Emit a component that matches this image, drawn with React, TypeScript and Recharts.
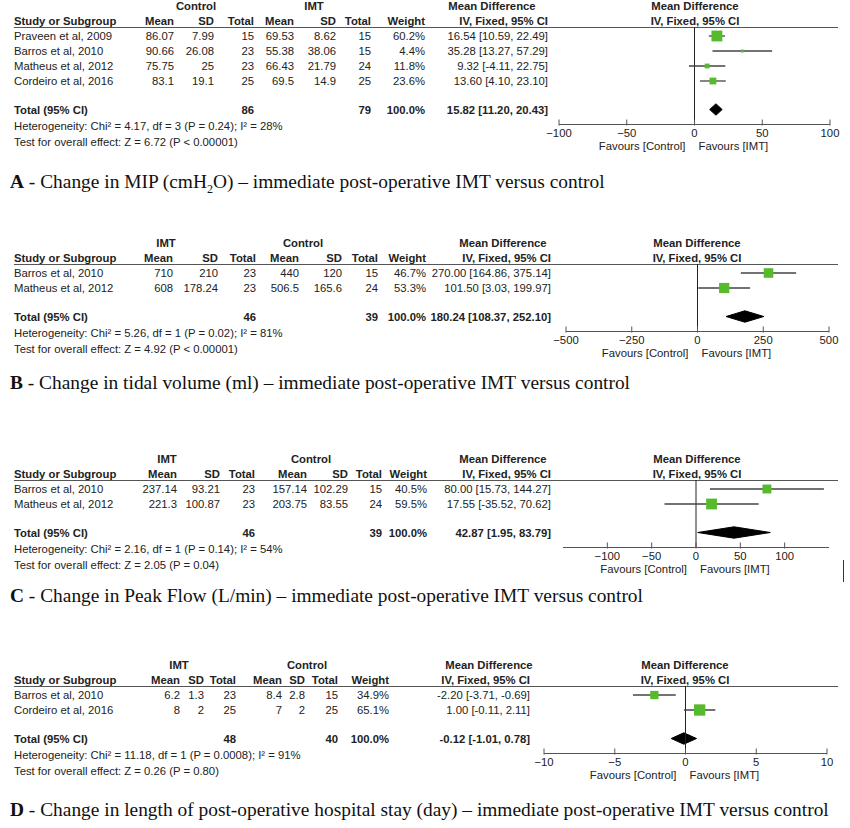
import React from "react";
import {
  ComposedChart,
  Scatter,
  ErrorBar,
  Area,
  XAxis,
  YAxis,
  ReferenceLine,
} from "recharts";

// ---- A: MIP (cmH2O)
const mipGroups = ["Control", "IMT"];
const mipStudies = ["Praveen et al, 2009", "Barros et al, 2010", "Matheus et al, 2012", "Cordeiro et al, 2016"];
const mipMean1 = ["86.07", "90.66", "75.75", "83.1"];
const mipSd1 = ["7.99", "26.08", "25", "19.1"];
const mipN1 = [15, 23, 23, 25];
const mipMean2 = ["69.53", "55.38", "66.43", "69.5"];
const mipSd2 = ["8.62", "38.06", "21.79", "14.9"];
const mipN2 = [15, 15, 24, 25];
const mipWeight = [60.2, 4.4, 11.8, 23.6];
const mipMd = [16.54, 35.28, 9.32, 13.6];
const mipLo = [10.59, 13.27, -4.11, 4.1];
const mipHi = [22.49, 57.29, 22.75, 23.1];
const mipTotalN = [86, 79];
const mipTotal = [15.82, 11.2, 20.43];
const mipHet = "Heterogeneity: Chi² = 4.17, df = 3 (P = 0.24); I² = 28%";
const mipTest = "Test for overall effect: Z = 6.72 (P < 0.00001)";
const mipTicks = [-100, -50, 0, 50, 100];

// ---- B: tidal volume (ml)
const tvGroups = ["IMT", "Control"];
const tvStudies = ["Barros et al, 2010", "Matheus et al, 2012"];
const tvMean1 = ["710", "608"];
const tvSd1 = ["210", "178.24"];
const tvN1 = [23, 23];
const tvMean2 = ["440", "506.5"];
const tvSd2 = ["120", "165.6"];
const tvN2 = [15, 24];
const tvWeight = [46.7, 53.3];
const tvMd = [270.0, 101.5];
const tvLo = [164.86, 3.03];
const tvHi = [375.14, 199.97];
const tvTotalN = [46, 39];
const tvTotal = [180.24, 108.37, 252.1];
const tvHet = "Heterogeneity: Chi² = 5.26, df = 1 (P = 0.02); I² = 81%";
const tvTest = "Test for overall effect: Z = 4.92 (P < 0.00001)";
const tvTicks = [-500, -250, 0, 250, 500];

// ---- C: peak flow (L/min)
const pfGroups = ["IMT", "Control"];
const pfStudies = ["Barros et al, 2010", "Matheus et al, 2012"];
const pfMean1 = ["237.14", "221.3"];
const pfSd1 = ["93.21", "100.87"];
const pfN1 = [23, 23];
const pfMean2 = ["157.14", "203.75"];
const pfSd2 = ["102.29", "83.55"];
const pfN2 = [15, 24];
const pfWeight = [40.5, 59.5];
const pfMd = [80.0, 17.55];
const pfLo = [15.73, -35.52];
const pfHi = [144.27, 70.62];
const pfTotalN = [46, 39];
const pfTotal = [42.87, 1.95, 83.79];
const pfHet = "Heterogeneity: Chi² = 2.16, df = 1 (P = 0.14); I² = 54%";
const pfTest = "Test for overall effect: Z = 2.05 (P = 0.04)";
const pfTicks = [-100, -50, 0, 50, 100];

// ---- D: hospital stay (day)
const hsGroups = ["IMT", "Control"];
const hsStudies = ["Barros et al, 2010", "Cordeiro et al, 2016"];
const hsMean1 = ["6.2", "8"];
const hsSd1 = ["1.3", "2"];
const hsN1 = [23, 25];
const hsMean2 = ["8.4", "7"];
const hsSd2 = ["2.8", "2"];
const hsN2 = [15, 25];
const hsWeight = [34.9, 65.1];
const hsMd = [-2.2, 1.0];
const hsLo = [-3.71, -0.11];
const hsHi = [-0.69, 2.11];
const hsTotalN = [48, 40];
const hsTotal = [-0.12, -1.01, 0.78];
const hsHet = "Heterogeneity: Chi² = 11.18, df = 1 (P = 0.0008); I² = 91%";
const hsTest = "Test for overall effect: Z = 0.26 (P = 0.80)";
const hsTicks = [-10, -5, 0, 5, 10];

const FONT = '"Liberation Sans", Arial, sans-serif';
const SERIF = '"Liberation Serif", "Times New Roman", serif';
const GREEN = "#57b92c";
const ROW = 15;
const FS = 11.3;

const fmtCi = (m: number, l: number, h: number) =>
  `${m.toFixed(2)} [${l.toFixed(2)}, ${h.toFixed(2)}]`;

const panels = [
  {
    letter: "A",
    caption: (
      <>
        {" - Change in MIP (cmH"}
        <sub style={{ fontSize: 12 }}>2</sub>
        {"O) – immediate post-operative IMT versus control"}
      </>
    ),
    groups: mipGroups, studies: mipStudies, m1: mipMean1, s1: mipSd1, n1: mipN1, m2: mipMean2, s2: mipSd2, n2: mipN2,
    weight: mipWeight, md: mipMd, lo: mipLo, hi: mipHi, totalN: mipTotalN, total: mipTotal, het: mipHet, test: mipTest,
    ticks: mipTicks,
    lineY: 27, captionY: 182,
    cols: [174, 214, 254, 294, 336, 371, 425, 548],
    groupX: [196, 314], mdX: 492, plotX: 695, axis: [559, 830],
  },
  {
    letter: "B",
    caption: <>{" - Change in tidal volume (ml) – immediate post-operative IMT versus control"}</>,
    groups: tvGroups, studies: tvStudies, m1: tvMean1, s1: tvSd1, n1: tvN1, m2: tvMean2, s2: tvSd2, n2: tvN2,
    weight: tvWeight, md: tvMd, lo: tvLo, hi: tvHi, totalN: tvTotalN, total: tvTotal, het: tvHet, test: tvTest,
    ticks: tvTicks,
    lineY: 264, captionY: 383,
    cols: [173, 218, 256, 299, 342, 378, 426, 551],
    groupX: [166, 303], mdX: 503, plotX: 697, axis: [566, 829],
  },
  {
    letter: "C",
    caption: <>{" - Change in Peak Flow (L/min) – immediate post-operative IMT versus control"}</>,
    groups: pfGroups, studies: pfStudies, m1: pfMean1, s1: pfSd1, n1: pfN1, m2: pfMean2, s2: pfSd2, n2: pfN2,
    weight: pfWeight, md: pfMd, lo: pfLo, hi: pfHi, totalN: pfTotalN, total: pfTotal, het: pfHet, test: pfTest,
    ticks: pfTicks, domain: [-150, 150],
    lineY: 480, captionY: 596,
    cols: [177, 220, 255, 307, 348, 382, 427, 551],
    groupX: [167, 311], mdX: 503, plotX: 697, axis: [563, 829],
  },
  {
    letter: "D",
    caption: <>{" - Change in length of post-operative hospital stay (day) – immediate post-operative IMT versus control"}</>,
    groups: hsGroups, studies: hsStudies, m1: hsMean1, s1: hsSd1, n1: hsN1, m2: hsMean2, s2: hsSd2, n2: hsN2,
    weight: hsWeight, md: hsMd, lo: hsLo, hi: hsHi, totalN: hsTotalN, total: hsTotal, het: hsHet, test: hsTest,
    ticks: hsTicks,
    lineY: 686, captionY: 810,
    cols: [180, 204, 236, 282, 305, 338, 389, 530],
    groupX: [179, 307], mdX: 489, plotX: 685, axis: [544, 827],
  },
];

type TxtProps = { x: number; y: number; align?: "left" | "right" | "center"; bold?: boolean; children: React.ReactNode };

const Txt = ({ x, y, align = "left", bold, children }: TxtProps) => {
  const w = 300;
  const left = align === "left" ? x : align === "right" ? x - w : x - w / 2;
  return (
    <div
      style={{
        position: "absolute",
        left,
        top: y - 7,
        width: w,
        height: 14,
        lineHeight: "14px",
        textAlign: align,
        fontWeight: bold ? "bold" : "normal",
        whiteSpace: "nowrap",
      }}
    >
      {children}
    </div>
  );
};

// square area proportional to the study weight
const Square = (props: any) => {
  const { cx, cy, payload } = props;
  const s = 1.4 * Math.sqrt(payload.w);
  return <rect x={cx - s / 2} y={cy - s / 2} width={s} height={s} fill={GREEN} />;
};

const AxisTick = (props: any) => {
  const { x, y, payload } = props;
  const v = payload.value;
  const label = v < 0 ? `−${Math.abs(v)}` : `${v}`;
  return (
    <g fontFamily={FONT} fontSize={FS} fill="#222">
      <line x1={x} x2={x} y1={y - 5} y2={y + 1} stroke="#555" />
      <text x={x} y={y + 12} textAnchor="middle" fill="#222">
        {label}
      </text>
      {v === 0 && (
        <>
          <text x={x - 9} y={y + 25} textAnchor="end" fill="#222">
            Favours [Control]
          </text>
          <text x={x + 4} y={y + 25} textAnchor="start" fill="#222">
            Favours [IMT]
          </text>
        </>
      )}
    </g>
  );
};

const ForestPanel = ({ p }: { p: any }) => {
  const n = p.studies.length;
  const rowY = (i: number) => p.lineY + 9 + ROW * i;
  const totalIdx = n + 0.9;
  const plotH = ROW * (n + 2.5);
  const mL = 30;
  const chartW = p.axis[1] - p.axis[0] + 2 * mL;
  const domain = p.domain || [p.ticks[0], p.ticks[p.ticks.length - 1]];

  const points = p.md.map((m: number, i: number) => ({
    md: m,
    row: i,
    w: p.weight[i],
    err: [m - p.lo[i], p.hi[i] - m],
  }));
  const [tm, tl, th] = p.total;
  const diamond = [
    { md: tl, r: [totalIdx, totalIdx] },
    { md: tm, r: [totalIdx - 0.38, totalIdx + 0.38] },
    { md: th, r: [totalIdx, totalIdx] },
  ];

  const c = p.cols;
  const top1 = p.lineY - 21;
  const top2 = p.lineY - 6;
  const ty = rowY(totalIdx);

  return (
    <>
      <Txt x={p.groupX[0]} y={top1} align="center" bold>{p.groups[0]}</Txt>
      <Txt x={p.groupX[1]} y={top1} align="center" bold>{p.groups[1]}</Txt>
      <Txt x={p.mdX} y={top1} align="center" bold>Mean Difference</Txt>
      <Txt x={p.plotX} y={top1} align="center" bold>Mean Difference</Txt>
      <Txt x={14} y={top2} bold>Study or Subgroup</Txt>
      {["Mean", "SD", "Total", "Mean", "SD", "Total", "Weight", "IV, Fixed, 95% CI"].map((h, k) => (
        <Txt key={k} x={c[k]} y={top2} align="right" bold>{h}</Txt>
      ))}
      <Txt x={p.plotX} y={top2} align="center" bold>IV, Fixed, 95% CI</Txt>
      <div style={{ position: "absolute", left: 14, top: p.lineY, width: 824, height: 1, background: "#555" }} />

      {p.studies.map((s: string, i: number) => (
        <React.Fragment key={s}>
          <Txt x={14} y={rowY(i)}>{s}</Txt>
          <Txt x={c[0]} y={rowY(i)} align="right">{p.m1[i]}</Txt>
          <Txt x={c[1]} y={rowY(i)} align="right">{p.s1[i]}</Txt>
          <Txt x={c[2]} y={rowY(i)} align="right">{p.n1[i]}</Txt>
          <Txt x={c[3]} y={rowY(i)} align="right">{p.m2[i]}</Txt>
          <Txt x={c[4]} y={rowY(i)} align="right">{p.s2[i]}</Txt>
          <Txt x={c[5]} y={rowY(i)} align="right">{p.n2[i]}</Txt>
          <Txt x={c[6]} y={rowY(i)} align="right">{p.weight[i].toFixed(1)}%</Txt>
          <Txt x={c[7]} y={rowY(i)} align="right">{fmtCi(p.md[i], p.lo[i], p.hi[i])}</Txt>
        </React.Fragment>
      ))}

      <Txt x={14} y={ty} bold>Total (95% CI)</Txt>
      <Txt x={c[2]} y={ty} align="right" bold>{p.totalN[0]}</Txt>
      <Txt x={c[5]} y={ty} align="right" bold>{p.totalN[1]}</Txt>
      <Txt x={c[6]} y={ty} align="right" bold>100.0%</Txt>
      <Txt x={c[7]} y={ty} align="right" bold>{fmtCi(tm, tl, th)}</Txt>
      <Txt x={14} y={ty + 16}>{p.het}</Txt>
      <Txt x={14} y={ty + 32}>{p.test}</Txt>

      <div style={{ position: "absolute", left: p.axis[0] - mL, top: p.lineY }}>
        <ComposedChart
          width={chartW}
          height={plotH + 40}
          margin={{ top: 0, right: mL, bottom: 0, left: mL }}
        >
          <XAxis
            type="number"
            dataKey="md"
            domain={domain}
            ticks={p.ticks}
            interval={0}
            allowDataOverflow
            height={40}
            tickSize={0}
            tickMargin={0}
            tickLine={false}
            axisLine={{ stroke: "#555" }}
            tick={<AxisTick />}
          />
          <YAxis type="number" dataKey="row" domain={[-0.6, n + 1.9]} reversed hide allowDataOverflow />
          <ReferenceLine x={0} stroke="#222" strokeWidth={1} ifOverflow="extendDomain" />
          <Area
            data={diamond}
            dataKey="r"
            type="linear"
            stroke="#000"
            fill="#000"
            fillOpacity={1}
            dot={false}
            activeDot={false}
            isAnimationActive={false}
          />
          <Scatter data={points} shape={<Square />} isAnimationActive={false}>
            <ErrorBar dataKey="err" direction="x" width={0} stroke="#444" strokeWidth={1.3} />
          </Scatter>
        </ComposedChart>
      </div>

      <div
        style={{
          position: "absolute",
          left: 10,
          top: p.captionY - 12,
          fontFamily: SERIF,
          fontSize: 19.4,
          lineHeight: "24px",
          whiteSpace: "nowrap",
          color: "#111",
        }}
      >
        <b>{p.letter}</b>
        {p.caption}
      </div>
    </>
  );
};

export default function App() {
  return (
    <div
      style={{
        position: "absolute",
        left: 0,
        top: 0,
        width: 850,
        height: 828,
        background: "#fff",
        fontFamily: FONT,
        fontSize: FS,
        color: "#222",
        overflow: "hidden",
      }}
    >
      {panels.map((p) => (
        <ForestPanel key={p.letter} p={p} />
      ))}
      <div style={{ position: "absolute", left: 843, top: 560, width: 1, height: 22, background: "#333" }} />
    </div>
  );
}
